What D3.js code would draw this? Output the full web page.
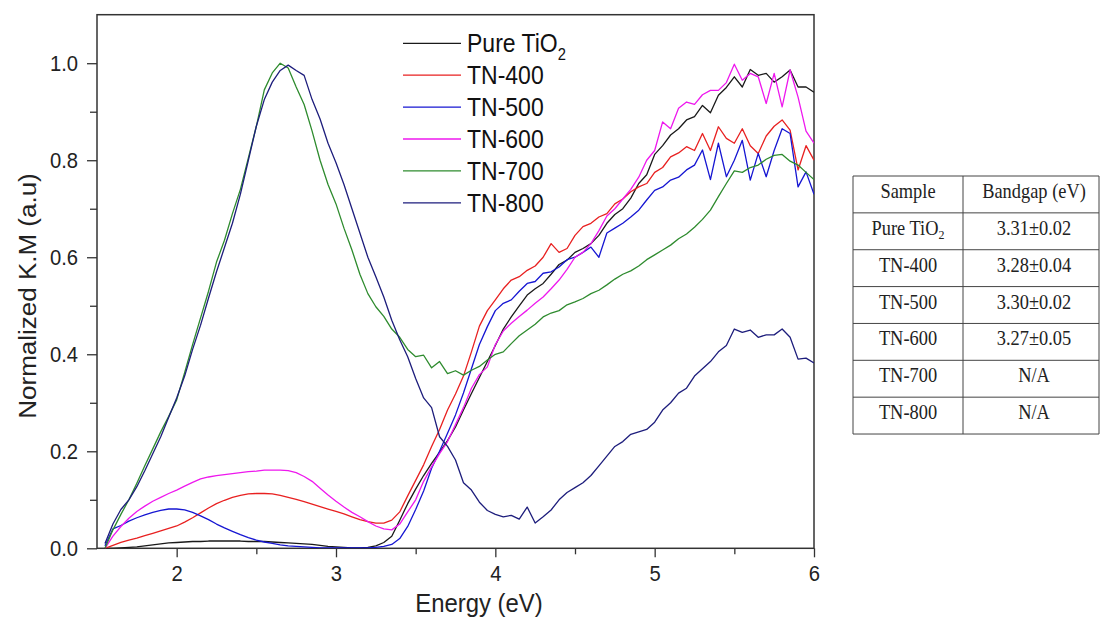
<!DOCTYPE html>
<html>
<head>
<meta charset="utf-8">
<script src="https://cdn.jsdelivr.net/npm/d3@7"></script>
<style>
  body { margin: 0; background: #fff; }
  svg { display: block; }
</style>
</head>
<body>
<div id="chart"></div>
<script>
// energy grid (eV) shared by all spectra
const energy = [
  1.55,1.6,1.65,1.7,1.75,1.8,1.85,1.9,1.95,2,
  2.05,2.1,2.15,2.2,2.25,2.3,2.35,2.4,2.45,2.5,
  2.55,2.6,2.65,2.7,2.75,2.8,2.85,2.9,2.95,3,
  3.05,3.1,3.15,3.2,3.25,3.3,3.35,3.4,3.45,3.5,
  3.55,3.6,3.65,3.7,3.75,3.8,3.85,3.9,3.95,4,
  4.05,4.1,4.15,4.2,4.25,4.3,4.35,4.4,4.45,4.5,
  4.55,4.6,4.65,4.7,4.75,4.8,4.85,4.9,4.95,5,
  5.05,5.1,5.15,5.2,5.25,5.3,5.35,5.4,5.45,5.5,
  5.55,5.6,5.65,5.7,5.75,5.8,5.85,5.9,5.95,6
];

const pureTiO2 = [
  0,0,0.001,0.002,0.003,0.005,0.007,0.009,0.011,0.012,
  0.013,0.014,0.014,0.015,0.015,0.015,0.015,0.015,0.014,0.014,
  0.014,0.013,0.012,0.011,0.010,0.009,0.008,0.006,0.004,0.003,
  0.002,0.001,0.001,0.002,0.005,0.012,0.025,0.058,0.092,0.122,
  0.150,0.175,0.198,0.222,0.250,0.285,0.319,0.352,0.385,0.418,
  0.452,0.477,0.500,0.522,0.535,0.546,0.565,0.585,0.594,0.610,
  0.618,0.628,0.645,0.670,0.688,0.700,0.722,0.752,0.770,0.812,
  0.830,0.852,0.865,0.883,0.890,0.913,0.898,0.934,0.950,0.972,
  0.951,0.987,0.975,0.979,0.961,0.972,0.986,0.951,0.951,0.940
];

const tn400 = [
  0,0.006,0.012,0.017,0.021,0.026,0.031,0.036,0.041,0.046,
  0.054,0.063,0.073,0.083,0.092,0.099,0.105,0.109,0.112,0.113,
  0.113,0.112,0.109,0.105,0.101,0.096,0.091,0.086,0.081,0.076,
  0.071,0.065,0.059,0.055,0.052,0.052,0.058,0.075,0.108,0.140,
  0.172,0.210,0.245,0.285,0.318,0.355,0.405,0.458,0.490,0.512,
  0.535,0.553,0.560,0.573,0.582,0.600,0.628,0.610,0.618,0.645,
  0.663,0.670,0.683,0.690,0.710,0.720,0.735,0.745,0.752,0.775,
  0.785,0.807,0.815,0.828,0.820,0.855,0.820,0.869,0.845,0.835,
  0.865,0.830,0.814,0.850,0.870,0.883,0.862,0.780,0.830,0.800
];

const tn500 = [
  0.005,0.040,0.047,0.056,0.063,0.069,0.074,0.078,0.081,0.081,
  0.079,0.074,0.067,0.059,0.050,0.042,0.035,0.028,0.022,0.017,
  0.013,0.010,0.007,0.005,0.004,0.003,0.002,0.001,0.001,0.001,
  0.001,0.001,0.001,0.001,0.002,0.004,0.008,0.020,0.045,0.080,
  0.118,0.165,0.200,0.237,0.275,0.320,0.370,0.420,0.457,0.490,
  0.505,0.512,0.530,0.546,0.550,0.567,0.570,0.580,0.595,0.600,
  0.610,0.621,0.600,0.650,0.660,0.670,0.683,0.697,0.718,0.738,
  0.745,0.759,0.765,0.780,0.790,0.821,0.760,0.835,0.766,0.800,
  0.841,0.759,0.814,0.766,0.820,0.865,0.855,0.745,0.776,0.730
];

const tn600 = [
  0,0.025,0.045,0.062,0.076,0.087,0.097,0.105,0.113,0.120,
  0.128,0.136,0.143,0.147,0.150,0.152,0.154,0.156,0.158,0.159,
  0.161,0.161,0.161,0.160,0.156,0.148,0.138,0.124,0.110,0.097,
  0.085,0.074,0.065,0.055,0.046,0.040,0.038,0.050,0.075,0.100,
  0.138,0.168,0.195,0.220,0.255,0.290,0.330,0.358,0.374,0.420,
  0.448,0.464,0.478,0.491,0.505,0.518,0.535,0.553,0.575,0.600,
  0.610,0.628,0.655,0.685,0.700,0.720,0.740,0.765,0.800,0.820,
  0.879,0.865,0.907,0.920,0.915,0.935,0.944,0.944,0.960,0.998,
  0.965,0.979,0.972,0.917,0.979,0.910,0.986,0.930,0.860,0.835
];

const tn700 = [
  0,0.038,0.070,0.100,0.134,0.170,0.205,0.240,0.272,0.306,
  0.362,0.420,0.475,0.530,0.590,0.635,0.690,0.740,0.805,0.870,
  0.945,0.980,1.000,0.990,0.951,0.915,0.860,0.800,0.750,0.710,
  0.660,0.615,0.565,0.525,0.498,0.478,0.452,0.435,0.410,0.395,
  0.398,0.372,0.385,0.360,0.366,0.357,0.367,0.375,0.388,0.400,
  0.405,0.422,0.438,0.450,0.462,0.477,0.485,0.490,0.502,0.508,
  0.515,0.525,0.532,0.543,0.555,0.565,0.572,0.582,0.595,0.605,
  0.615,0.625,0.638,0.648,0.662,0.678,0.697,0.725,0.752,0.778,
  0.775,0.785,0.790,0.802,0.810,0.812,0.798,0.790,0.775,0.760
];

const tn800 = [
  0.010,0.050,0.080,0.100,0.127,0.160,0.195,0.230,0.270,0.310,
  0.355,0.410,0.460,0.516,0.570,0.620,0.670,0.730,0.800,0.870,
  0.925,0.961,0.985,0.996,0.985,0.975,0.925,0.885,0.835,0.795,
  0.750,0.700,0.650,0.600,0.560,0.518,0.470,0.430,0.395,0.350,
  0.310,0.290,0.230,0.210,0.182,0.135,0.120,0.095,0.078,0.070,
  0.065,0.068,0.060,0.085,0.052,0.065,0.079,0.100,0.115,0.125,
  0.135,0.150,0.170,0.190,0.210,0.220,0.235,0.240,0.245,0.260,
  0.285,0.300,0.320,0.330,0.355,0.370,0.385,0.405,0.418,0.452,
  0.445,0.450,0.435,0.440,0.440,0.452,0.435,0.390,0.392,0.382
];

const seriesNames = ['Pure TiO', 'TN-400', 'TN-500', 'TN-600', 'TN-700', 'TN-800'];
const xTicks = [2, 3, 4, 5, 6];
const xMinor = [2.5, 3.5, 4.5, 5.5];
const yTicks = [0, 0.2, 0.4, 0.6, 0.8, 1.0];
const yMinor = [0.1, 0.3, 0.5, 0.7, 0.9];

const tableHead = ['Sample', 'Bandgap (eV)'];
const tableSamples = ['Pure TiO', 'TN-400', 'TN-500', 'TN-600', 'TN-700', 'TN-800'];
const tableGaps = ['3.31±0.02', '3.28±0.04', '3.30±0.02', '3.27±0.05', 'N/A', 'N/A'];

const series = [pureTiO2, tn400, tn500, tn600, tn700, tn800];
const colors = ['#1a1a1a', '#e82020', '#1616d2', '#ee18ee', '#2e8b2e', '#1d1d7c'];

const W = 1100, H = 619;
const pLeft = 97, pRight = 814, pTop = 14.7, pBottom = 548.3;
const SQ = 0.92; // source text is squeezed sideways
const SANS = "'Liberation Sans', Arial, sans-serif";
const SERIF = "'Liberation Serif', 'Times New Roman', serif";

const svg = d3.select('#chart').append('svg').attr('width', W).attr('height', H);

const x = d3.scaleLinear().domain([1.5, 6]).range([pLeft, pRight]);
const y = d3.scaleLinear().domain([0, 1.1]).range([pBottom, pTop]);

function styleAxis(g) {
  g.select('.domain').remove();
  g.selectAll('.tick line').attr('stroke', '#333').attr('stroke-width', 1.3);
  g.selectAll('.tick text').attr('fill', '#222').style('font-family', SANS).style('font-size', '22px');
}

// x axis
const gx = svg.append('g').attr('transform', `translate(0,${pBottom})`)
  .call(d3.axisBottom(x).tickValues(xTicks).tickSize(9).tickPadding(8).tickFormat(d3.format('d')));
styleAxis(gx);
gx.selectAll('.tick text').attr('transform', `scale(${SQ},1)`);

const gxm = svg.append('g').attr('transform', `translate(0,${pBottom})`)
  .call(d3.axisBottom(x).tickValues(xMinor).tickSize(6).tickFormat(''));
styleAxis(gxm);

// y axis
const gy = svg.append('g').attr('transform', `translate(${pLeft},0)`)
  .call(d3.axisLeft(y).tickValues(yTicks).tickSize(10).tickPadding(9).tickFormat(d3.format('.1f')));
styleAxis(gy);
gy.selectAll('.tick text').attr('x', -19 / SQ).attr('transform', `scale(${SQ},1)`);

const gym = svg.append('g').attr('transform', `translate(${pLeft},0)`)
  .call(d3.axisLeft(y).tickValues(yMinor).tickSize(7).tickFormat(''));
styleAxis(gym);

// frame
svg.append('rect')
  .attr('x', pLeft).attr('y', pTop).attr('width', pRight - pLeft).attr('height', pBottom - pTop)
  .attr('fill', 'none').attr('stroke', '#333').attr('stroke-width', 1.5);

// curves
svg.append('clipPath').attr('id', 'plot-clip')
  .append('rect').attr('x', pLeft).attr('y', pTop).attr('width', pRight - pLeft).attr('height', pBottom - pTop);

const line = d3.line()
  .x((d, i) => x(energy[i]))
  .y(d => y(d));

svg.append('g').attr('clip-path', 'url(#plot-clip)')
  .selectAll('path').data(series).enter().append('path')
  .attr('d', line)
  .attr('fill', 'none')
  .attr('stroke', (d, i) => colors[i])
  .attr('stroke-width', 1.3)
  .attr('stroke-linejoin', 'round');

// axis titles
svg.append('text')
  .attr('transform', `translate(479,612) scale(${SQ},1)`)
  .attr('text-anchor', 'middle').attr('fill', '#222')
  .style('font-family', SANS).style('font-size', '26px')
  .text('Energy (eV)');

svg.append('text')
  .attr('transform', `translate(36,296) rotate(-90) scale(1,${SQ})`)
  .attr('text-anchor', 'middle').attr('fill', '#222')
  .style('font-family', SANS).style('font-size', '26px')
  .text('Normalized K.M (a.u)');

// legend
const legend = svg.append('g');
seriesNames.forEach((name, i) => {
  const ly = 43.3 + i * 31.9;
  legend.append('line')
    .attr('x1', 403).attr('x2', 461).attr('y1', ly).attr('y2', ly)
    .attr('stroke', colors[i]).attr('stroke-width', 1.3);
  const t = legend.append('text')
    .attr('transform', `translate(467,${ly}) scale(${SQ},1)`)
    .attr('dy', '0.36em').attr('fill', '#111')
    .style('font-family', SANS).style('font-size', '25px')
    .text(name);
  if (i === 0) t.append('tspan').attr('dy', 8).style('font-size', '16px').text('2');
});

// bandgap table
const tLeft = 853, tMid = 963, tRight = 1099, tTop = 176, rowH = 36.86;
const nRows = tableSamples.length + 1;
const table = svg.append('g');
d3.range(nRows + 1).forEach(r => {
  table.append('line')
    .attr('x1', tLeft).attr('x2', tRight)
    .attr('y1', tTop + r * rowH).attr('y2', tTop + r * rowH)
    .attr('stroke', '#444').attr('stroke-width', 1);
});
[tLeft, tMid, tRight].forEach(cx => {
  table.append('line')
    .attr('x1', cx).attr('x2', cx)
    .attr('y1', tTop).attr('y2', tTop + nRows * rowH)
    .attr('stroke', '#444').attr('stroke-width', 1);
});

function cell(cx, r, str, sub) {
  const t = table.append('text')
    .attr('transform', `translate(${cx},${tTop + r * rowH + 22}) scale(${SQ},1)`)
    .attr('text-anchor', 'middle').attr('fill', '#222')
    .style('font-family', SERIF).style('font-size', '20px')
    .text(str);
  if (sub) t.append('tspan').attr('dy', 4).style('font-size', '13px').text(sub);
}
cell(908, 0, tableHead[0]);
cell(1034, 0, tableHead[1]);
tableSamples.forEach((s, i) => {
  cell(908, i + 1, s, i === 0 ? '2' : null);
  cell(1034, i + 1, tableGaps[i]);
});
</script>
</body>
</html>
